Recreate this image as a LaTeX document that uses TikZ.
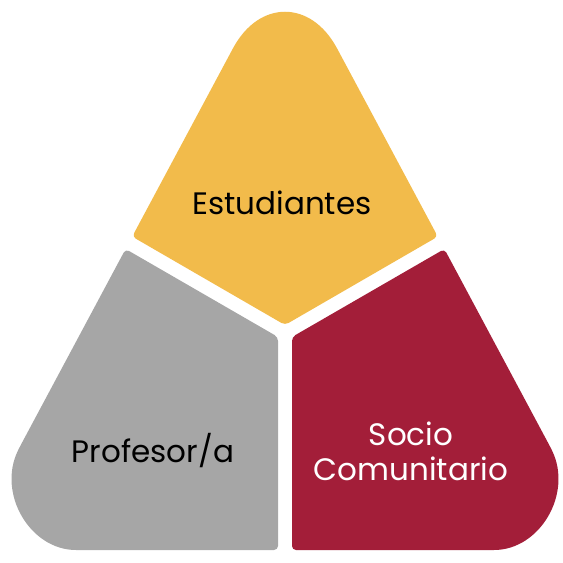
\documentclass[tikz,border=0pt]{standalone}
\usepackage{fontspec}
\setmainfont{Poppins}
\usetikzlibrary{positioning}
\definecolor{amarillo}{HTML}{F2BB4B}
\definecolor{gris}{HTML}{A6A6A6}
\definecolor{granate}{HTML}{A31E39}
\tikzset{
    piece/.style={rounded corners=4pt},
    rolename/.style={
        font=\fontsize{31}{35}\selectfont,
        align=center,
        anchor=base,
        inner sep=0pt
    }
}
\begin{document}
\begin{tikzpicture}[x=1pt, y=-1pt]
\useasboundingbox (0,0) rectangle (563,563);

% three parts of the triangle
\fill[amarillo, piece] (231,52) .. controls (259.1,-0.5) and (310.9,-0.5) .. (339,52)
    -- (437.8,236.6) -- (285,325) -- (132.2,236.6) -- cycle;
\fill[gris, piece] (125.6,249) -- (278,337) -- (278,550) -- (80,550)
    .. controls (30,550) and (-3,493.4) .. (19.7,447) -- cycle;
\fill[granate, piece] (444.4,249) -- (292,337) -- (292,550) -- (490,550)
    .. controls (540,550) and (573,493.4) .. (550.3,447) -- cycle;

\node[rolename] (estudiantes) at (282,214) {Estudiantes};
\node[rolename] (profesor) at (153,462) {Profesor/a};
\node[rolename, text=white] (socio) at (411,480) {Socio\\Comunitario};
\end{tikzpicture}
\end{document}
